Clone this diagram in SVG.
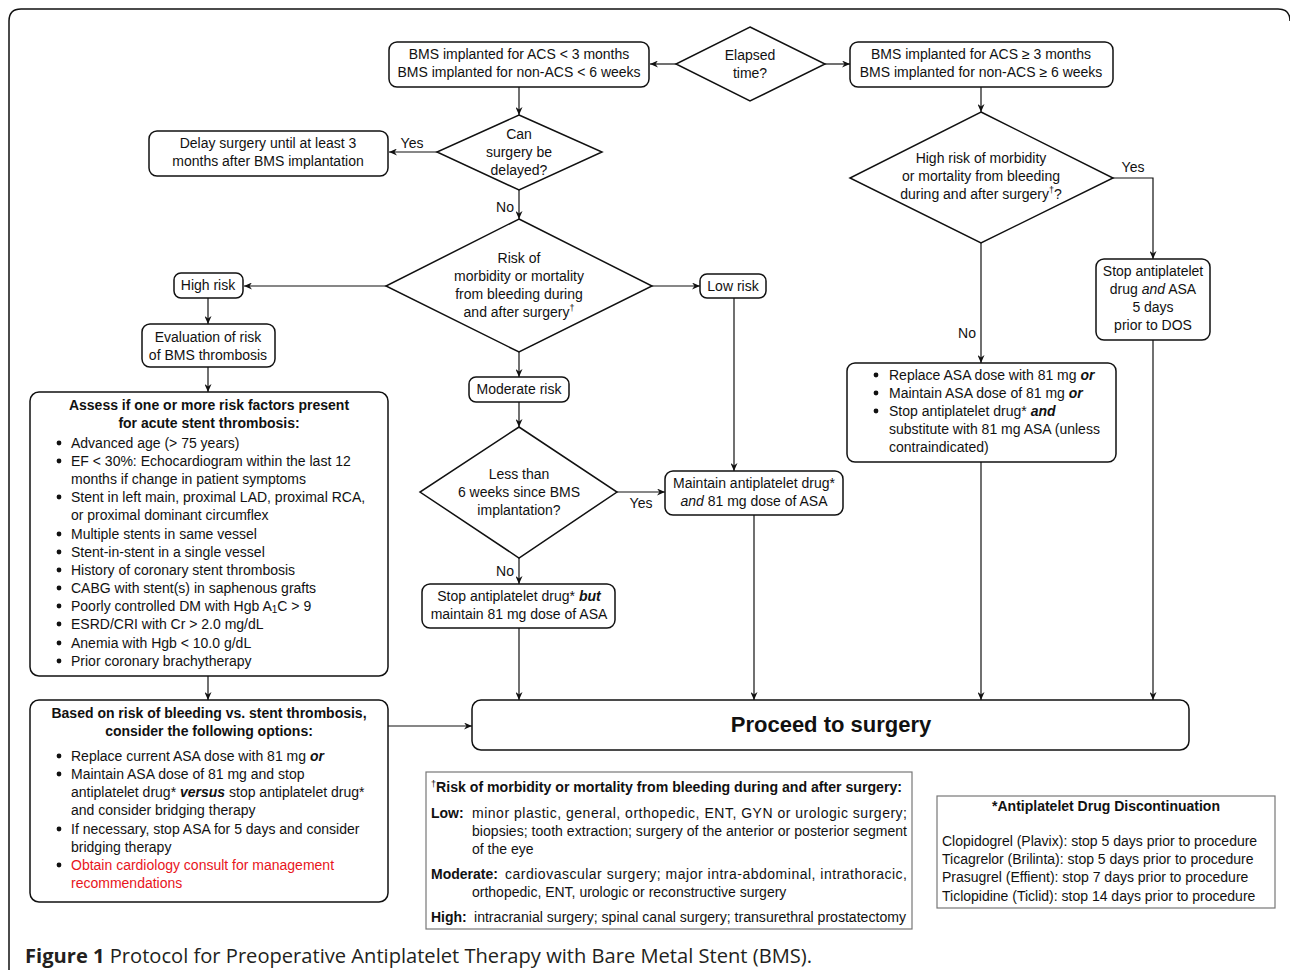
<svg xmlns="http://www.w3.org/2000/svg" width="1290" height="970" viewBox="0 0 1290 970">
<style>
text{font-family:"Liberation Sans",Arial,sans-serif;font-size:14px;fill:#111}
.c{text-anchor:middle}
.b{font-weight:bold}
.i{font-style:italic}
.bi{font-weight:bold;font-style:italic}
.red{fill:#e8141b}
.box{fill:#fff;stroke:#111;stroke-width:1.5}
.dia{fill:#fff;stroke:#111;stroke-width:1.5}
.note{fill:#fff;stroke:#777;stroke-width:1.2}
.con{fill:none;stroke:#111;stroke-width:1.2}
.big{font-size:22px;font-weight:bold}
.cap{font-family:"Open Sans","Liberation Sans",sans-serif;font-size:20px;fill:#231f20}
.sup{font-size:9px}
</style>
<defs>
<marker id="arr" markerWidth="9" markerHeight="7" refX="8" refY="3.5" orient="auto" markerUnits="userSpaceOnUse">
<path d="M0,0 L8,3.5 L0,7 L2.5,3.5 z" fill="#111"/>
</marker>
</defs>
<rect width="1290" height="970" fill="#fff"/>
<path d="M9,975 V21 Q9,9 21,9 H1278 Q1290,9 1290,21" fill="none" stroke="#111" stroke-width="1.5"/>

<g id="connectors">
<line class="con" x1="676" y1="64" x2="650" y2="64" marker-end="url(#arr)"/>
<line class="con" x1="825" y1="64" x2="850" y2="64" marker-end="url(#arr)"/>
<line class="con" x1="519" y1="87" x2="519" y2="115" marker-end="url(#arr)"/>
<line class="con" x1="437" y1="152" x2="389" y2="152" marker-end="url(#arr)"/>
<line class="con" x1="519" y1="190" x2="519" y2="219" marker-end="url(#arr)"/>
<line class="con" x1="386" y1="286" x2="244" y2="286" marker-end="url(#arr)"/>
<line class="con" x1="208" y1="298" x2="208" y2="324" marker-end="url(#arr)"/>
<line class="con" x1="208" y1="367" x2="208" y2="392" marker-end="url(#arr)"/>
<line class="con" x1="208" y1="676" x2="208" y2="700" marker-end="url(#arr)"/>
<line class="con" x1="388" y1="726" x2="472" y2="726" marker-end="url(#arr)"/>
<line class="con" x1="652" y1="286" x2="700" y2="286" marker-end="url(#arr)"/>
<line class="con" x1="734" y1="298" x2="734" y2="471" marker-end="url(#arr)"/>
<line class="con" x1="519" y1="352" x2="519" y2="377" marker-end="url(#arr)"/>
<line class="con" x1="519" y1="402" x2="519" y2="427" marker-end="url(#arr)"/>
<line class="con" x1="617" y1="492" x2="665" y2="492" marker-end="url(#arr)"/>
<line class="con" x1="519" y1="558" x2="519" y2="584" marker-end="url(#arr)"/>
<line class="con" x1="519" y1="628" x2="519" y2="700" marker-end="url(#arr)"/>
<line class="con" x1="754" y1="515" x2="754" y2="700" marker-end="url(#arr)"/>
<line class="con" x1="981" y1="87" x2="981" y2="112" marker-end="url(#arr)"/>
<polyline class="con" points="1113,178 1153,178 1153,259" marker-end="url(#arr)"/>
<line class="con" x1="981" y1="243" x2="981" y2="363" marker-end="url(#arr)"/>
<line class="con" x1="981" y1="462" x2="981" y2="700" marker-end="url(#arr)"/>
<line class="con" x1="1153" y1="340" x2="1153" y2="700" marker-end="url(#arr)"/>
<text x="412" y="148" class="c">Yes</text>
<text x="514" y="212" text-anchor="end">No</text>
<text x="1133" y="172" class="c">Yes</text>
<text x="976" y="338" text-anchor="end">No</text>
<text x="641" y="508" class="c">Yes</text>
<text x="514" y="576" text-anchor="end">No</text>
</g>

<g id="n-lt">
<rect class="box" x="389" y="42" width="260" height="45" rx="8"/>
<text x="519" y="59" class="c">BMS implanted for ACS &lt; 3 months</text>
<text x="519" y="77" class="c">BMS implanted for non-ACS &lt; 6 weeks</text>
</g>
<g id="n-elapsed">
<polygon class="dia" points="750,27 825,64 750,101 676,64"/>
<text x="750" y="60" class="c">Elapsed</text>
<text x="750" y="78" class="c">time?</text>
</g>
<g id="n-ge">
<rect class="box" x="850" y="42" width="263" height="45" rx="8"/>
<text x="981" y="59" class="c">BMS implanted for ACS ≥ 3 months</text>
<text x="981" y="77" class="c">BMS implanted for non-ACS ≥ 6 weeks</text>
</g>
<g id="n-delayq">
<polygon class="dia" points="519,115 602,152 519,190 437,152"/>
<text x="519" y="139" class="c">Can</text>
<text x="519" y="157" class="c">surgery be</text>
<text x="519" y="175" class="c">delayed?</text>
</g>
<g id="n-delay">
<rect class="box" x="149" y="131" width="239" height="45" rx="8"/>
<text x="268" y="148" class="c">Delay surgery until at least 3</text>
<text x="268" y="166" class="c">months after BMS implantation</text>
</g>
<g id="n-riskq">
<polygon class="dia" points="519,219 652,286 519,352 386,286"/>
<text x="519" y="263" class="c">Risk of</text>
<text x="519" y="281" class="c">morbidity or mortality</text>
<text x="519" y="299" class="c">from bleeding during</text>
<text x="519" y="317" class="c">and after surgery<tspan class="sup" dy="-6">†</tspan></text>
</g>
<g id="n-high">
<rect class="box" x="174" y="273" width="69" height="25" rx="7"/>
<text x="208" y="290" class="c">High risk</text>
</g>
<g id="n-eval">
<rect class="box" x="142" y="324" width="133" height="43" rx="8"/>
<text x="208" y="342" class="c">Evaluation of risk</text>
<text x="208" y="360" class="c">of BMS thrombosis</text>
</g>
<g id="n-assess">
<rect class="box" x="30" y="392" width="358" height="284" rx="9"/>
<text x="209" y="410" class="c b">Assess if one or more risk factors present</text>
<text x="209" y="428" class="c b">for acute stent thrombosis:</text>
<g fill="#111">
<circle cx="59" cy="443" r="2.4"/><circle cx="59" cy="461" r="2.4"/><circle cx="59" cy="497" r="2.4"/>
<circle cx="59" cy="534" r="2.4"/><circle cx="59" cy="552" r="2.4"/><circle cx="59" cy="570" r="2.4"/>
<circle cx="59" cy="588" r="2.4"/><circle cx="59" cy="606" r="2.4"/><circle cx="59" cy="624" r="2.4"/>
<circle cx="59" cy="643" r="2.4"/><circle cx="59" cy="661" r="2.4"/>
</g>
<text x="71" y="448">Advanced age (&gt; 75 years)</text>
<text x="71" y="466">EF &lt; 30%: Echocardiogram within the last 12</text>
<text x="71" y="484">months if change in patient symptoms</text>
<text x="71" y="502">Stent in left main, proximal LAD, proximal RCA,</text>
<text x="71" y="520">or proximal dominant circumflex</text>
<text x="71" y="539">Multiple stents in same vessel</text>
<text x="71" y="557">Stent-in-stent in a single vessel</text>
<text x="71" y="575">History of coronary stent thrombosis</text>
<text x="71" y="593">CABG with stent(s) in saphenous grafts</text>
<text x="71" y="611">Poorly controlled DM with Hgb A<tspan font-size="10" dy="2">1</tspan><tspan dy="-2">C &gt; 9</tspan></text>
<text x="71" y="629">ESRD/CRI with Cr &gt; 2.0 mg/dL</text>
<text x="71" y="648">Anemia with Hgb &lt; 10.0 g/dL</text>
<text x="71" y="666">Prior coronary brachytherapy</text>
</g>
<g id="n-based">
<rect class="box" x="30" y="700" width="358" height="202" rx="9"/>
<text x="209" y="718" class="c b">Based on risk of bleeding vs. stent thrombosis,</text>
<text x="209" y="736" class="c b">consider the following options:</text>
<g fill="#111">
<circle cx="59" cy="756" r="2.4"/><circle cx="59" cy="774" r="2.4"/><circle cx="59" cy="829" r="2.4"/><circle cx="59" cy="865" r="2.4"/>
</g>
<text x="71" y="761">Replace current ASA dose with 81 mg <tspan class="bi">or</tspan></text>
<text x="71" y="779">Maintain ASA dose of 81 mg and stop</text>
<text x="71" y="797">antiplatelet drug* <tspan class="bi">versus</tspan> stop antiplatelet drug*</text>
<text x="71" y="815">and consider bridging therapy</text>
<text x="71" y="834">If necessary, stop ASA for 5 days and consider</text>
<text x="71" y="852">bridging therapy</text>
<text x="71" y="870" class="red">Obtain cardiology consult for management</text>
<text x="71" y="888" class="red">recommendations</text>
</g>
<g id="n-low">
<rect class="box" x="700" y="274" width="66" height="24" rx="7"/>
<text x="733" y="291" class="c">Low risk</text>
</g>
<g id="n-mod">
<rect class="box" x="469" y="377" width="100" height="25" rx="7"/>
<text x="519" y="394" class="c">Moderate risk</text>
</g>
<g id="n-lessq">
<polygon class="dia" points="519,427 617,492 519,558 420,492"/>
<text x="519" y="479" class="c">Less than</text>
<text x="519" y="497" class="c">6 weeks since BMS</text>
<text x="519" y="515" class="c">implantation?</text>
</g>
<g id="n-maintain">
<rect class="box" x="665" y="471" width="178" height="44" rx="8"/>
<text x="754" y="488" class="c">Maintain antiplatelet drug*</text>
<text x="754" y="506" class="c"><tspan class="i">and</tspan> 81 mg dose of ASA</text>
</g>
<g id="n-stop">
<rect class="box" x="422" y="584" width="193" height="44" rx="8"/>
<text x="519" y="601" class="c">Stop antiplatelet drug* <tspan class="bi">but</tspan></text>
<text x="519" y="619" class="c">maintain 81 mg dose of ASA</text>
</g>
<g id="n-highq">
<polygon class="dia" points="981,112 1113,178 981,243 850,178"/>
<text x="981" y="163" class="c">High risk of morbidity</text>
<text x="981" y="181" class="c">or mortality from bleeding</text>
<text x="981" y="199" class="c">during and after surgery<tspan class="sup" dy="-6">†</tspan><tspan dy="6">?</tspan></text>
</g>
<g id="n-stopboth">
<rect class="box" x="1096" y="259" width="114" height="81" rx="8"/>
<text x="1153" y="276" class="c">Stop antiplatelet</text>
<text x="1153" y="294" class="c">drug <tspan class="i">and</tspan> ASA</text>
<text x="1153" y="312" class="c">5 days</text>
<text x="1153" y="330" class="c">prior to DOS</text>
</g>
<g id="n-replace">
<rect class="box" x="847" y="363" width="269" height="99" rx="8"/>
<g fill="#111"><circle cx="876" cy="375" r="2.4"/><circle cx="876" cy="393" r="2.4"/><circle cx="876" cy="411" r="2.4"/></g>
<text x="889" y="380">Replace ASA dose with 81 mg <tspan class="bi">or</tspan></text>
<text x="889" y="398">Maintain ASA dose of 81 mg <tspan class="bi">or</tspan></text>
<text x="889" y="416">Stop antiplatelet drug* <tspan class="bi">and</tspan></text>
<text x="889" y="434">substitute with 81 mg ASA (unless</text>
<text x="889" y="452">contraindicated)</text>
</g>
<g id="n-proceed">
<rect class="box" x="472" y="700" width="717" height="50" rx="9"/>
<text x="831" y="732" class="c big">Proceed to surgery</text>
</g>
<g id="n-footnote">
<rect class="note" x="426" y="772" width="486" height="157"/>
<text x="431" y="792" class="b"><tspan class="sup" font-weight="normal" dy="-5">†</tspan><tspan dy="5" textLength="466" lengthAdjust="spacingAndGlyphs">Risk of morbidity or mortality from bleeding during and after surgery:</tspan></text>
<text x="431" y="818" class="b">Low:</text>
<text x="472" y="818" textLength="435" lengthAdjust="spacing">minor plastic, general, orthopedic, ENT, GYN or urologic surgery;</text>
<text x="472" y="836" textLength="435" lengthAdjust="spacing">biopsies; tooth extraction; surgery of the anterior or posterior segment</text>
<text x="472" y="854">of the eye</text>
<text x="431" y="879" class="b">Moderate:</text>
<text x="505" y="879" textLength="402" lengthAdjust="spacing">cardiovascular surgery;  major intra-abdominal,  intrathoracic,</text>
<text x="472" y="897">orthopedic, ENT, urologic or reconstructive surgery</text>
<text x="431" y="922" class="b">High:</text>
<text x="474" y="922" textLength="432" lengthAdjust="spacingAndGlyphs">intracranial surgery; spinal canal surgery; transurethral prostatectomy</text>
</g>
<g id="n-drugs">
<rect class="note" x="937" y="796" width="338" height="112"/>
<text x="1106" y="811" class="c b">*Antiplatelet Drug Discontinuation</text>
<text x="942" y="846">Clopidogrel (Plavix): stop 5 days prior to procedure</text>
<text x="942" y="864">Ticagrelor (Brilinta): stop 5 days prior to procedure</text>
<text x="942" y="882">Prasugrel (Effient): stop 7 days prior to procedure</text>
<text x="942" y="901">Ticlopidine (Ticlid): stop 14 days prior to procedure</text>
</g>
<text x="25" y="963" class="cap" textLength="787" lengthAdjust="spacingAndGlyphs"><tspan font-weight="bold">Figure 1</tspan> Protocol for Preoperative Antiplatelet Therapy with Bare Metal Stent (BMS).</text>
</svg>
